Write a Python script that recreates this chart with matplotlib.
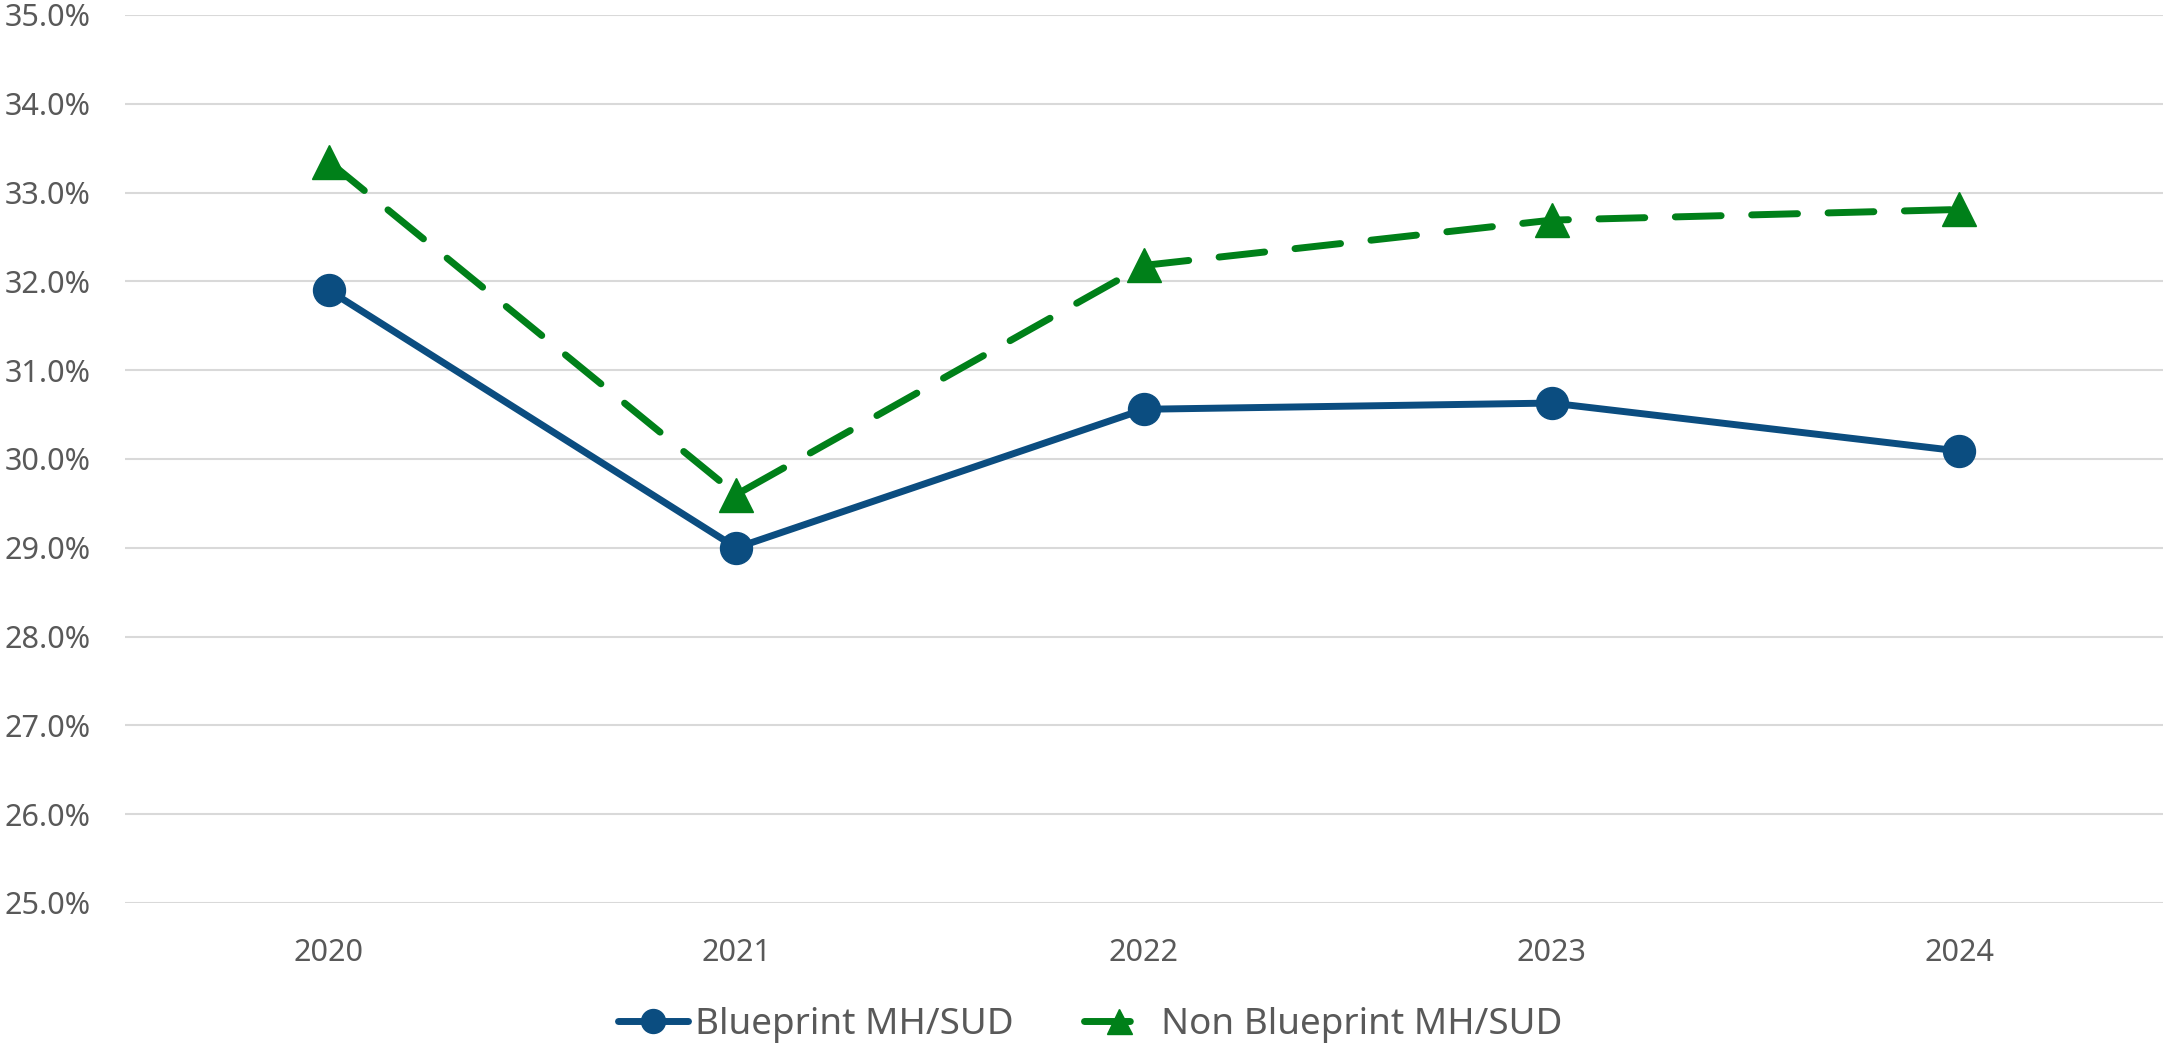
import matplotlib
matplotlib.use("Agg")
import matplotlib.pyplot as plt
from matplotlib.ticker import FuncFormatter, MultipleLocator

years = ["2020", "2021", "2022", "2023", "2024"]
blueprint = [31.90, 29.00, 30.56, 30.63, 30.09]
non_blueprint = [33.35, 29.60, 32.18, 32.69, 32.81]

series_names = ["Blueprint MH/SUD", "Non Blueprint MH/SUD"]
blue = "#0B4D80"
green = "#008019"
text_color = "#595959"
grid_color = "#D9D9D9"

plt.rcParams['font.family'] = ['Noto Sans', 'DejaVu Sans']

W, H = 2165, 1045
fig = plt.figure(figsize=(W / 100, H / 100), dpi=100)
ax = fig.add_axes([125 / W, 1 - 903 / H, (2163 - 125) / W, (903 - 15) / H])

x = list(range(len(years)))
ax.plot(x, blueprint, color=blue, lw=5, marker='o', markersize=23,
        solid_capstyle='round', label=series_names[0], zorder=3)
ax.plot(x, non_blueprint, color=green, lw=5, marker='^', markersize=24,
        dashes=(6.6, 4.4), dash_capstyle='round', label=series_names[1], zorder=3)

ax.set_xlim(-0.5, len(years) - 0.5)
ax.set_ylim(25, 35)
ax.yaxis.set_major_locator(MultipleLocator(1))
ax.yaxis.set_major_formatter(FuncFormatter(lambda v, p: f"{v:.1f}%"))
ax.set_xticks(x)
ax.set_xticklabels(years)
ax.grid(axis='y', color=grid_color, lw=1.5)
ax.set_axisbelow(True)
for s in ax.spines.values():
    s.set_visible(False)
ax.tick_params(axis='y', length=0, pad=25, labelsize=22, labelcolor=text_color)
ax.tick_params(axis='x', length=0, pad=25, labelsize=22, labelcolor=text_color)

fig.legend(loc='center', bbox_to_anchor=(0.5035, 1 - 1025 / H), ncol=2,
           frameon=False, fontsize=26.5, labelcolor=text_color,
           handlelength=1.9, handletextpad=0.2, columnspacing=1.9,
           markerscale=0.75)

fig.savefig("out.png", dpi=100)
